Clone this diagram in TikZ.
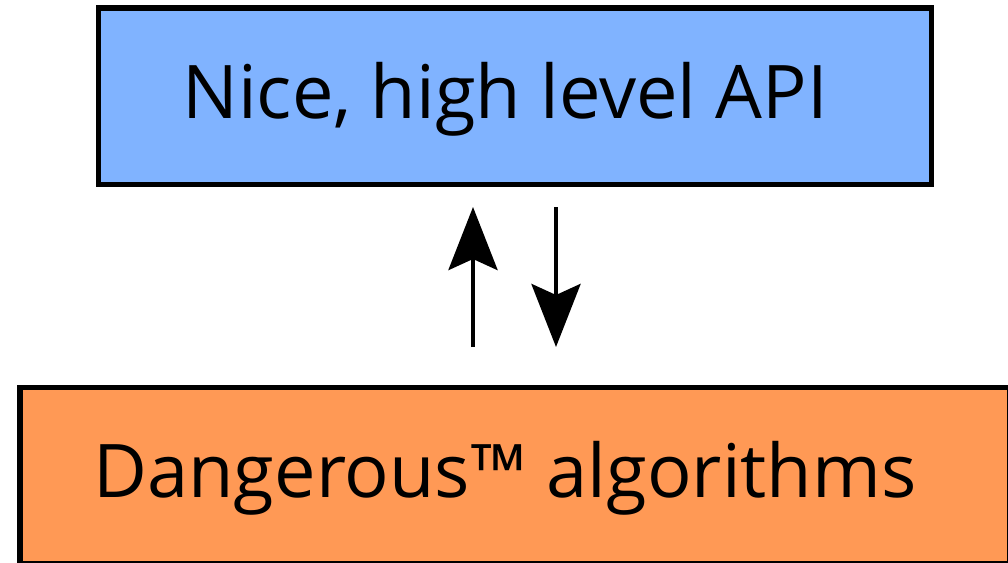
\documentclass[tikz,border=0pt]{standalone}
\usepackage{fontspec}
\setmainfont{Open Sans}
\usetikzlibrary{arrows.meta}
\definecolor{apiblue}{HTML}{80B3FF}
\definecolor{algoorange}{HTML}{FF9955}
\begin{document}
\begin{tikzpicture}[x=1pt,y=-1pt,
  layerbox/.style={draw=black, line width=5.5pt, minimum height=176.5pt,
    inner sep=0pt, outer sep=0pt},
  boxtext/.style={font=\fontsize{74}{84}\selectfont, anchor=base, inner sep=0pt},
  flow/.style={line width=4.5pt, -{Stealth[length=63pt,width=49pt,inset=11pt]}}]
\useasboundingbox (0,0) rectangle (1008,562);
\clip (0,0) rectangle (1008,562);
% the two layers
\node[layerbox, fill=apiblue, minimum width=833pt] (api) at (515,96.25) {};
\node[layerbox, fill=algoorange, minimum width=989.5pt] (algo) at (514.75,475.75) {};
\node[boxtext] (apitext) at (505,118) {Nice, high level API};
\node[boxtext] (algotext) at (505,497) {Dangerous™ algorithms};
% calls going up and down
\coordinate (upx) at (473,0);
\coordinate (downx) at (556,0);
\draw[flow, shorten <=40.5pt, shorten >=22.5pt] (upx |- algo.north) -- (upx |- api.south);
\draw[flow, shorten <=22.5pt, shorten >=40.5pt] (downx |- api.south) -- (downx |- algo.north);
\end{tikzpicture}
\end{document}
